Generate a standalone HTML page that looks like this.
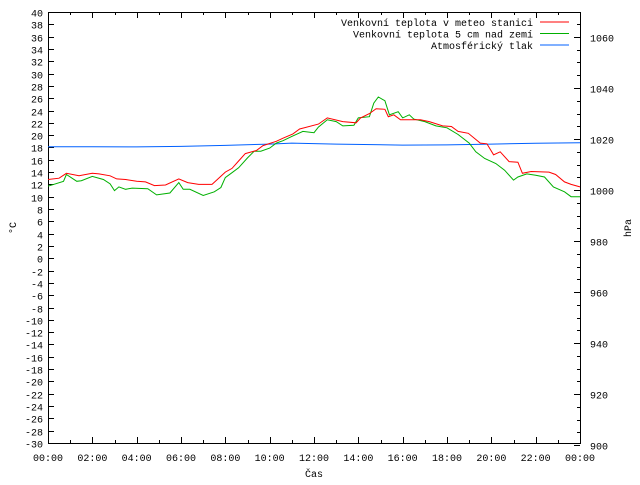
<!DOCTYPE html>
<html><head><meta charset="utf-8"><style>
body{margin:0;background:#fff}
svg text{font-family:"Liberation Mono",monospace;font-size:10px;fill:#000}
</style></head><body>
<svg id="chart" width="640" height="480" xmlns="http://www.w3.org/2000/svg"></svg>
<script>
const hours=[0,0.5,0.83,1.4,2,2.3,2.8,3.1,3.5,4,4.4,4.8,5.3,5.9,6.3,6.8,7.4,7.7,8,8.3,8.6,8.9,9.4,9.7,10.3,10.6,11.05,11.35,12.2,12.6,13.3,13.9,14.1,14.5,14.8,15.2,15.35,15.6,15.9,16.8,17.2,17.8,18.2,18.5,18.96,19.5,19.8,20.1,20.4,20.8,21.2,21.4,21.8,22.6,22.9,23.3,23.6,24];
const tempStation=[12.8,13.0,13.8,13.4,13.8,13.7,13.4,12.9,12.8,12.5,12.4,11.8,11.9,12.9,12.3,12.0,12.0,13.0,14.0,14.6,15.8,17.0,17.5,18.3,19.0,19.5,20.2,21.0,21.8,22.8,22.2,22.0,22.8,23.5,24.3,24.2,23.0,23.3,22.5,22.5,22.2,21.5,21.4,20.6,20.3,18.7,18.6,16.8,17.3,15.7,15.6,13.8,14.1,14.0,13.6,12.4,12.0,11.6];
const hours2=[0,0.7,0.83,1.3,1.5,2,2.5,2.8,3,3.2,3.5,3.8,4.5,4.9,5.5,5.9,6.1,6.4,7,7.5,7.8,8,8.3,8.6,9,9.3,9.6,10,10.3,10.6,11,11.5,12,12.2,12.6,13,13.3,13.8,14,14.5,14.7,14.9,15.2,15.4,15.8,16,16.3,16.5,17,17.5,18,18.5,19,19.3,19.7,20.2,20.6,21,21.2,21.6,22,22.4,22.8,23.3,23.6,24];
const tempGround=[11.7,12.5,13.6,12.5,12.6,13.3,12.8,12.1,11.0,11.6,11.2,11.4,11.3,10.3,10.6,12.3,11.2,11.2,10.2,10.8,11.5,13.1,13.9,14.7,16.3,17.4,17.4,17.9,18.7,19.1,19.8,20.6,20.4,21.3,22.5,22.2,21.5,21.6,22.8,23.0,25.2,26.2,25.6,23.3,23.8,22.8,23.3,22.6,22.2,21.5,21.2,20.1,18.7,17.3,16.2,15.4,14.3,12.7,13.2,13.7,13.5,13.2,11.6,10.8,10.0,10.0];
const hours3=[0,2,4,6,8,10,11,13,16,18,20,22,24];
const pressure=[1017.0,1017.0,1016.9,1017.1,1017.5,1018.0,1018.4,1018.0,1017.6,1017.7,1018.0,1018.3,1018.5];
const yTicks=[];for(let v=-30;v<=40;v+=2)yTicks.push(v);
const pTicks=[900,920,940,960,980,1000,1020,1040,1060];
const xTickLabels=["00:00","02:00","04:00","06:00","08:00","10:00","12:00","14:00","16:00","18:00","20:00","22:00","00:00"];

const L=48,R=580,T=12,B=443;
const X=h=>L+h*(R-L)/24;
const Y=v=>T+(40-v)*(B-T)/70;
const P=p=>B-(p-900.8)*(B-T)/169;
const NS="http://www.w3.org/2000/svg";
const svg=document.getElementById('chart');
function mk(tag,attrs,parent){const e=document.createElementNS(NS,tag);for(const k in attrs)e.setAttribute(k,attrs[k]);(parent||svg).appendChild(e);return e;}

const axes=mk('g',{});


const frame=mk('rect',{x:L+.5,y:T+.5,width:R-L,height:B-T,fill:'none',stroke:'#000','stroke-width':1},axes);


yTicks.forEach(v=>{
  const y=Math.round(Y(v))+.5;
  mk('line',{x1:L,x2:L+6,y1:y,y2:y,stroke:'#000'},axes);
  const t=mk('text',{x:L-5,y:y+4,'text-anchor':'end'},axes);t.textContent=v;
  
  
});
for(let p=905;p<=1065;p+=5){
  const y=Math.round(P(p))+.5;const maj=pTicks.includes(p);
  mk('line',{x1:R-(maj?6:3),x2:R,y1:y,y2:y,stroke:'#000'},axes);
}
pTicks.forEach(p=>{
  const y=Math.round(P(p))+.5;
  mk('line',{x1:R-6,x2:R,y1:y,y2:y,stroke:'#000'},axes);
  const t=mk('text',{x:R+10,y:y+4},axes);t.textContent=p;
  
  
});
for(let h=0;h<=24;h++){
  const x=Math.round(X(h))+.5;const len=h%2?3:6;
  mk('line',{x1:x,x2:x,y1:B,y2:B-len,stroke:'#000'},axes);
  mk('line',{x1:x,x2:x,y1:T,y2:T+len,stroke:'#000'},axes);
}
xTickLabels.forEach((s,i)=>{
  const t=mk('text',{x:X(i*2),y:461,'text-anchor':'middle'},axes);t.textContent=s;
  
  
});
const xt=mk('text',{x:314,y:477,'text-anchor':'middle'});xt.textContent='Čas';


const yt=mk('text',{x:16,y:228,'text-anchor':'middle',transform:'rotate(-90 16 228)'});yt.textContent='°C';


const y2t=mk('text',{x:631,y:228,'text-anchor':'middle',transform:'rotate(-90 631 228)'});y2t.textContent='hPa';



function series(xs,vs,fy,color,name){
  const d=xs.map((h,i)=>(i?'L':'M')+X(h).toFixed(1)+' '+fy(vs[i]).toFixed(1)).join(' ');
  const p=mk('path',{d:d,fill:'none',stroke:color,'stroke-width':1});
  
  
}
series(hours3,pressure,P,'#0060ff','pressure-line');
series(hours2,tempGround,Y,'#00b000','ground-temperature-line');
series(hours,tempStation,Y,'#ff0000','station-temperature-line');

const legend=[["Venkovní teplota v meteo stanici","#ff0000"],["Venkovní teplota 5 cm nad zemí","#00b000"],["Atmosférický tlak","#0060ff"]];
legend.forEach((e,i)=>{
  const y=22+i*11.5;
  const g=mk('g',{});
  
  
  const t=mk('text',{x:533,y:y+4,'text-anchor':'end'},g);t.textContent=e[0];
  mk('line',{x1:540,x2:569,y1:y,y2:y,stroke:e[1]},g);
});
</script>
</body></html>
